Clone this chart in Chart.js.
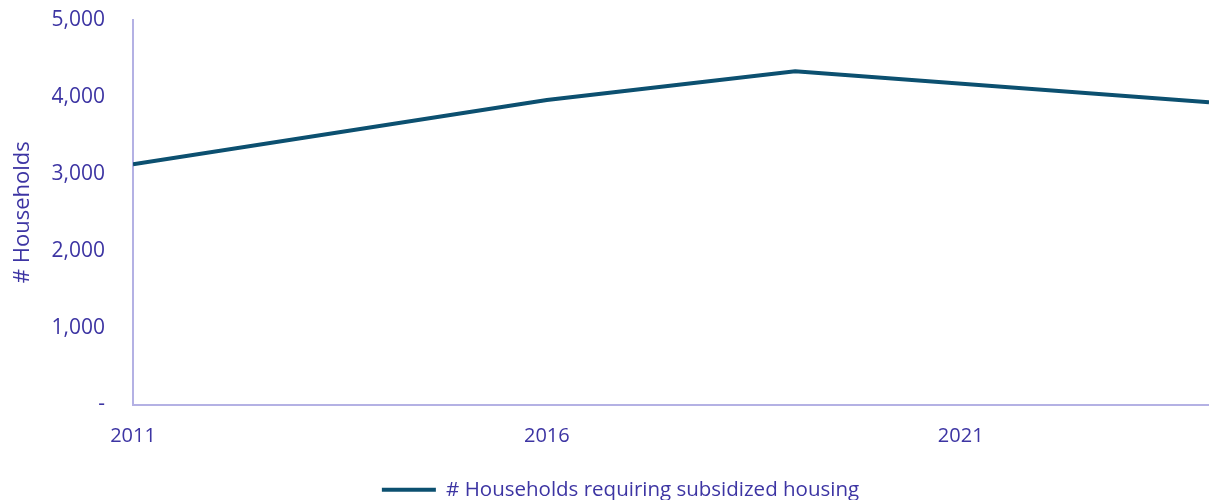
<!DOCTYPE html>
<html>
<head>
<meta charset="utf-8">
<script src="https://cdn.jsdelivr.net/npm/chart.js@4"></script>
<style>
  html, body { margin: 0; padding: 0; background: #fff; }
  #wrap { width: 1209px; height: 500px; }
</style>
</head>
<body>
<div id="wrap"><canvas id="chart"></canvas></div>
<script>
// Households needing subsidized housing
const years = [2011, 2016, 2019, 2024];
const households = [3125, 3960, 4335, 3930];
const xTicks = [2011, 2016, 2021];
const yTicks = [0, 1000, 2000, 3000, 4000, 5000];
const seriesLabel = '# Households requiring subsidized housing';

const textColor = '#3d35a3';
const axisColor = '#b4b1e4';
const lineColor = '#0c5070';
const fontFamily = "'Open Sans', 'Liberation Sans', sans-serif";

const points = years.map((y, i) => ({ x: y, y: households[i] }));

// legend in the original sits a bit right of the page centre
const legendNudge = {
    id: 'legendNudge',
    afterLayout(chart) {
        if (chart.legend) {
            chart.legend.left += 16;
            chart.legend.right += 16;
        }
    }
};

new Chart(document.getElementById('chart'), {
    type: 'line',
    data: {
        datasets: [{
            label: seriesLabel,
            data: points,
            borderColor: lineColor,
            backgroundColor: lineColor,
            borderWidth: 4,
            pointRadius: 0,
            tension: 0
        }]
    },
    plugins: [legendNudge],
    options: {
        responsive: true,
        maintainAspectRatio: false,
        animation: false,
        layout: { padding: { top: 20, right: 0, left: 0, bottom: -10 } },
        plugins: {
            tooltip: { enabled: false },
            legend: {
                position: 'bottom',
                labels: {
                    usePointStyle: true,
                    pointStyle: 'line',
                    pointStyleWidth: 54,
                    color: textColor,
                    font: { family: fontFamily, size: 20.5 },
                    padding: 4
                }
            }
        },
        scales: {
            x: {
                type: 'linear',
                min: 2011,
                max: 2024,
                afterBuildTicks: s => { s.ticks = xTicks.map(v => ({ value: v })); },
                afterFit: s => { s.height = 71; s.paddingLeft = 0; s.paddingRight = 0; },
                grid: { display: false, drawTicks: false },
                border: { display: true, color: axisColor, width: 2 },
                ticks: {
                    color: textColor,
                    font: { family: fontFamily, size: 20 },
                    padding: 20,
                    maxRotation: 0,
                    callback: v => String(v)
                }
            },
            y: {
                min: 0,
                max: 5000,
                afterBuildTicks: s => { s.ticks = yTicks.map(v => ({ value: v })); },
                afterFit: s => { s.width = 133; s.paddingTop = 0; s.paddingBottom = 0; },
                grid: {
                    display: true,
                    drawOnChartArea: false,
                    drawTicks: true,
                    tickLength: 25,
                    tickColor: 'rgba(0,0,0,0)'
                },
                border: { display: true, color: axisColor, width: 2 },
                title: {
                    display: true,
                    text: '# Households',
                    color: textColor,
                    font: { family: fontFamily, size: 22 },
                    padding: { top: 10, bottom: 0 }
                },
                ticks: {
                    color: textColor,
                    font: { family: fontFamily, size: 21 },
                    padding: 3,
                    callback: v => v === 0 ? '-' : v.toLocaleString('en-US')
                }
            }
        }
    }
});
</script>
</body>
</html>
